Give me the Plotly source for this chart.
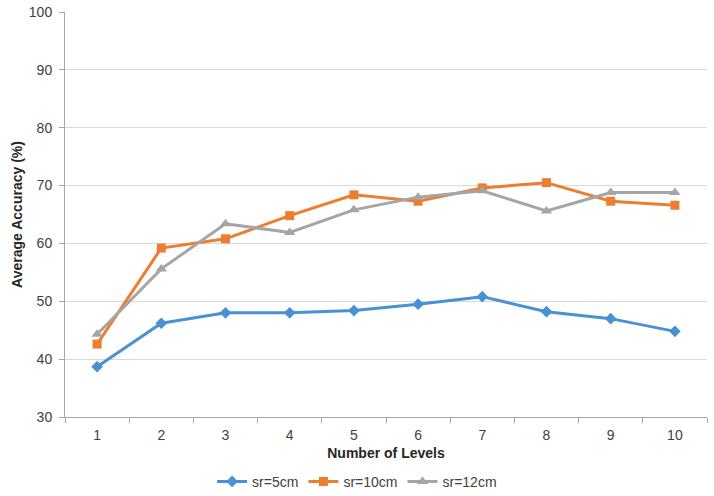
import plotly.graph_objects as go

levels = ["1", "2", "3", "4", "5", "6", "7", "8", "9", "10"]
sr5 = [38.7, 46.2, 48.0, 48.0, 48.4, 49.5, 50.8, 48.2, 47.0, 44.8]
sr10 = [42.6, 59.2, 60.8, 64.8, 68.4, 67.3, 69.6, 70.5, 67.3, 66.6]
sr12 = [44.3, 55.6, 63.4, 61.9, 65.8, 68.0, 69.1, 65.6, 68.8, 68.8]
y_ticks = [30, 40, 50, 60, 70, 80, 90, 100]

fig = go.Figure()
fig.add_trace(go.Scatter(x=levels, y=sr5, name="sr=5cm", mode="lines+markers",
                         line=dict(color="#4A90D4", width=3),
                         marker=dict(symbol="diamond", size=9, color="#4A90D4")))
fig.add_trace(go.Scatter(x=levels, y=sr10, name="sr=10cm", mode="lines+markers",
                         line=dict(color="#ED7D31", width=3),
                         marker=dict(symbol="square", size=9, color="#ED7D31")))
fig.add_trace(go.Scatter(x=levels, y=sr12, name="sr=12cm", mode="lines+markers",
                         line=dict(color="#A5A5A5", width=3),
                         marker=dict(symbol="triangle-up", size=10, color="#A5A5A5")))

font_family = "Liberation Sans, Arial, sans-serif"
fig.update_layout(
    width=714, height=496,
    margin=dict(l=65, r=7, t=12, b=79, autoexpand=False),
    paper_bgcolor="white", plot_bgcolor="white",
    font=dict(family=font_family, size=14, color="#404040"),
    showlegend=True,
    legend=dict(orientation="h", x=0.455, xanchor="center", y=-0.16, yanchor="middle",
                font=dict(size=14, color="#404040"), itemwidth=30, tracegroupgap=0),
    xaxis=dict(type="category", range=[-0.5, len(levels) - 0.5], tickson="boundaries",
               ticks="outside", ticklen=5,
               tickcolor="#A6A6A6", showline=True, linecolor="#A6A6A6", linewidth=1,
               showgrid=False, tickfont=dict(size=14, color="#404040"), automargin=False,
               ticklabelstandoff=5,
               title=dict(text="<b>Number of Levels</b>", font=dict(size=14, color="#262626"), standoff=6)),
    yaxis=dict(range=[30, 100], tickvals=y_ticks, ticks="outside", ticklen=5,
               tickcolor="#A6A6A6", showline=True, linecolor="#A6A6A6", linewidth=1,
               showgrid=True, gridcolor="#D9D9D9", gridwidth=1, zeroline=False, automargin=False,
               tickfont=dict(size=14, color="#404040"), ticklabelstandoff=4,
               title=dict(text="<b>Average Accuracy (%)</b>", font=dict(size=14, color="#262626"), standoff=2)),
)

fig.write_html("out.html", config={"displayModeBar": False},
               post_script="document.body.style.margin='0';document.body.style.overflow='hidden';")
